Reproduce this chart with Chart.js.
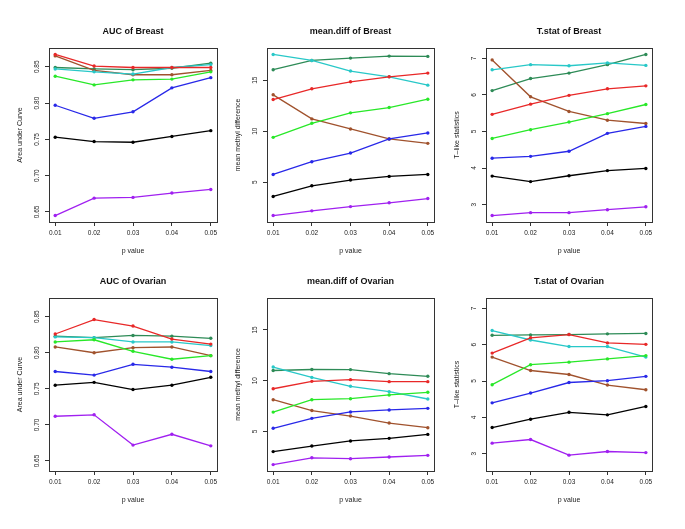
<!DOCTYPE html>
<html>
<head>
<meta charset="utf-8">
<script src="https://cdn.jsdelivr.net/npm/chart.js@4.4.0/dist/chart.umd.min.js"></script>
<style>
  html, body { margin: 0; padding: 0; background: #fff; }
  #page { position: relative; width: 685px; height: 529px; overflow: hidden; }
  .panel { position: absolute; }
</style>
</head>
<body>
<div id="page"></div>
<script>
// x values and tick labels
const pValues = [0.01, 0.02, 0.03, 0.04, 0.05];
const xTickLabels = ['0.01', '0.02', '0.03', '0.04', '0.05'];

// y ticks
const aucTicks = [0.65, 0.70, 0.75, 0.80, 0.85];
const aucTickLabels = ['0.65', '0.70', '0.75', '0.80', '0.85'];
const diffTicks = [5, 10, 15];
const diffTickLabels = ['5', '10', '15'];
const tstatTicks = [3, 4, 5, 6, 7];
const tstatTickLabels = ['3', '4', '5', '6', '7'];

// line colours, same order as the series in each panel
const lineColors = ['#000000', '#e82828', '#28e828', '#2828e8', '#28c8c8', '#a020f0', '#a0522d', '#2e8b57'];

// series order: black, red, green, blue, cyan, purple, brown, seagreen
const aucBreast = [
    [0.753, 0.747, 0.746, 0.754, 0.762],
    [0.867, 0.851, 0.849, 0.849, 0.849],
    [0.837, 0.825, 0.832, 0.833, 0.843],
    [0.797, 0.779, 0.788, 0.821, 0.835],
    [0.847, 0.843, 0.840, 0.849, 0.853],
    [0.645, 0.669, 0.670, 0.676, 0.681],
    [0.865, 0.845, 0.839, 0.839, 0.845],
    [0.849, 0.847, 0.846, 0.848, 0.855]
];
const diffBreast = [
    [3.59, 4.64, 5.20, 5.56, 5.75],
    [13.10, 14.15, 14.84, 15.33, 15.69],
    [9.39, 10.77, 11.79, 12.31, 13.13],
    [5.75, 7.00, 7.85, 9.23, 9.82],
    [17.52, 16.93, 15.89, 15.33, 14.51],
    [1.72, 2.18, 2.60, 2.97, 3.39],
    [13.56, 11.20, 10.21, 9.23, 8.80],
    [16.02, 16.93, 17.16, 17.36, 17.33]
];
const tstatBreast = [
    [3.78, 3.63, 3.79, 3.93, 3.99],
    [5.47, 5.75, 5.99, 6.17, 6.25],
    [4.81, 5.05, 5.26, 5.49, 5.74],
    [4.27, 4.32, 4.46, 4.95, 5.14],
    [6.69, 6.83, 6.80, 6.88, 6.81],
    [2.70, 2.78, 2.78, 2.86, 2.94],
    [6.96, 5.95, 5.55, 5.31, 5.22],
    [6.12, 6.45, 6.60, 6.83, 7.11]
];
const aucOvarian = [
    [0.755, 0.759, 0.749, 0.755, 0.766],
    [0.826, 0.846, 0.837, 0.819, 0.812],
    [0.815, 0.818, 0.802, 0.791, 0.796],
    [0.774, 0.769, 0.784, 0.780, 0.774],
    [0.822, 0.821, 0.815, 0.815, 0.810],
    [0.712, 0.714, 0.672, 0.687, 0.671],
    [0.808, 0.800, 0.807, 0.808, 0.796],
    [0.823, 0.821, 0.824, 0.823, 0.820]
];
const diffOvarian = [
    [3.00, 3.55, 4.05, 4.31, 4.70],
    [9.20, 9.93, 10.10, 9.90, 9.90],
    [6.90, 8.12, 8.22, 8.59, 8.85],
    [5.30, 6.28, 6.91, 7.11, 7.27],
    [11.34, 10.32, 9.44, 8.91, 8.19],
    [1.72, 2.39, 2.30, 2.47, 2.63],
    [8.12, 7.05, 6.51, 5.82, 5.36],
    [11.00, 11.10, 11.09, 10.69, 10.43]
];
const tstatOvarian = [
    [3.72, 3.95, 4.14, 4.07, 4.30],
    [5.77, 6.19, 6.28, 6.05, 6.01],
    [4.90, 5.45, 5.52, 5.61, 5.70],
    [4.40, 4.67, 4.96, 5.01, 5.13],
    [6.39, 6.13, 5.95, 5.95, 5.66],
    [3.29, 3.39, 2.96, 3.06, 3.03],
    [5.66, 5.29, 5.18, 4.89, 4.76],
    [6.26, 6.27, 6.28, 6.30, 6.31]
];

const FONT = '"Liberation Sans", Arial, Helvetica, sans-serif';
const AXIS_W = 49, TOP_PAD = 30, RIGHT_PAD = 6, X_AXIS_H = 36;

// R style axis range: data range stretched by 4% each side
function rRange(values) {
    const lo = Math.min(...values), hi = Math.max(...values);
    const d = (hi - lo) * 0.04;
    return [lo - d, hi + d];
}

// box, titles and rotated y tick labels, the way base R draws them
const rFrame = {
    id: 'rFrame',
    afterDraw(chart, args, opts) {
        const ctx = chart.ctx;
        const a = chart.chartArea;
        const cx = (a.left + a.right) / 2;
        const cy = (a.top + a.bottom) / 2;
        ctx.save();
        ctx.strokeStyle = '#333';
        ctx.lineWidth = 1;
        ctx.strokeRect(Math.round(a.left) + 0.5, Math.round(a.top) + 0.5,
            Math.round(a.right - a.left), Math.round(a.bottom - a.top));

        ctx.fillStyle = '#111';
        ctx.textAlign = 'center';
        ctx.textBaseline = 'middle';
        ctx.font = 'bold 9px ' + FONT;
        ctx.fillText(opts.title, cx, a.top - 16);

        ctx.fillStyle = '#222';
        ctx.font = '7px ' + FONT;
        ctx.fillText(opts.xLabel, cx, a.bottom + 29);

        ctx.save();
        ctx.translate(a.left - 29, cy);
        ctx.rotate(-Math.PI / 2);
        ctx.fillText(opts.yLabel, 0, 0);
        ctx.restore();

        ctx.font = '6.5px ' + FONT;
        const ys = chart.scales.y;
        opts.yTicks.forEach((v, i) => {
            ctx.save();
            ctx.translate(a.left - 12, ys.getPixelForValue(v));
            ctx.rotate(-Math.PI / 2);
            ctx.fillText(opts.yTickLabels[i], 0, 0);
            ctx.restore();
        });
        ctx.restore();
    }
};

const aucRange = rRange(aucBreast.flat());
const diffRange = rRange(diffBreast.flat());
const tstatRange = rRange(tstatBreast.flat());

const panels = [
    { box: [49, 48, 217, 222], title: 'AUC of Breast', yLabel: 'Area under Curve', series: aucBreast, ticks: aucTicks, tickLabels: aucTickLabels, range: aucRange },
    { box: [267, 48, 434, 222], title: 'mean.diff of Breast', yLabel: 'mean methyl difference', series: diffBreast, ticks: diffTicks, tickLabels: diffTickLabels, range: diffRange },
    { box: [486, 48, 652, 222], title: 'T.stat of Breast', yLabel: 'T\u2013like statistics', series: tstatBreast, ticks: tstatTicks, tickLabels: tstatTickLabels, range: tstatRange },
    { box: [49, 298, 217, 471], title: 'AUC of Ovarian', yLabel: 'Area under Curve', series: aucOvarian, ticks: aucTicks, tickLabels: aucTickLabels, range: aucRange },
    { box: [267, 298, 434, 471], title: 'mean.diff of Ovarian', yLabel: 'mean methyl difference', series: diffOvarian, ticks: diffTicks, tickLabels: diffTickLabels, range: diffRange },
    { box: [486, 298, 652, 471], title: 'T.stat of Ovarian', yLabel: 'T\u2013like statistics', series: tstatOvarian, ticks: tstatTicks, tickLabels: tstatTickLabels, range: tstatRange }
];

const xRange = rRange(pValues);
const page = document.getElementById('page');

panels.forEach(p => {
    const [l, t, r, b] = p.box;
    const div = document.createElement('div');
    div.className = 'panel';
    div.style.left = (l - AXIS_W) + 'px';
    div.style.top = (t - TOP_PAD) + 'px';
    const canvas = document.createElement('canvas');
    canvas.width = r - l + AXIS_W + RIGHT_PAD;
    canvas.height = b - t + TOP_PAD + X_AXIS_H;
    div.appendChild(canvas);
    page.appendChild(div);

    new Chart(canvas.getContext('2d'), {
        type: 'line',
        data: {
            datasets: p.series.map((vals, i) => ({
                data: vals.map((v, j) => ({ x: pValues[j], y: v })),
                borderColor: lineColors[i],
                backgroundColor: lineColors[i],
                borderWidth: 1.3,
                pointRadius: 1.7,
                pointBorderWidth: 0,
                tension: 0
            }))
        },
        options: {
            responsive: false,
            animation: false,
            layout: { padding: { top: TOP_PAD, right: RIGHT_PAD, left: 0, bottom: 0 } },
            plugins: {
                legend: { display: false },
                tooltip: { enabled: false },
                rFrame: { title: p.title, xLabel: 'p value', yLabel: p.yLabel, yTicks: p.ticks, yTickLabels: p.tickLabels }
            },
            scales: {
                x: {
                    type: 'linear',
                    min: xRange[0],
                    max: xRange[1],
                    afterBuildTicks: s => { s.ticks = pValues.map(v => ({ value: v })); },
                    afterFit: s => { s.height = X_AXIS_H; },
                    ticks: {
                        callback: (v, i) => xTickLabels[i],
                        font: { size: 6.5, family: FONT },
                        color: '#222',
                        padding: 3,
                        maxRotation: 0,
                        autoSkip: false
                    },
                    grid: { drawOnChartArea: false, drawTicks: true, tickLength: 4, color: '#333' },
                    border: { display: false }
                },
                y: {
                    type: 'linear',
                    min: p.range[0],
                    max: p.range[1],
                    afterBuildTicks: s => { s.ticks = p.ticks.map(v => ({ value: v })); },
                    afterFit: s => { s.width = AXIS_W; },
                    ticks: { display: false },
                    grid: { drawOnChartArea: false, drawTicks: true, tickLength: 4, color: '#333' },
                    border: { display: false }
                }
            }
        },
        plugins: [rFrame]
    });
});
</script>
</body>
</html>
